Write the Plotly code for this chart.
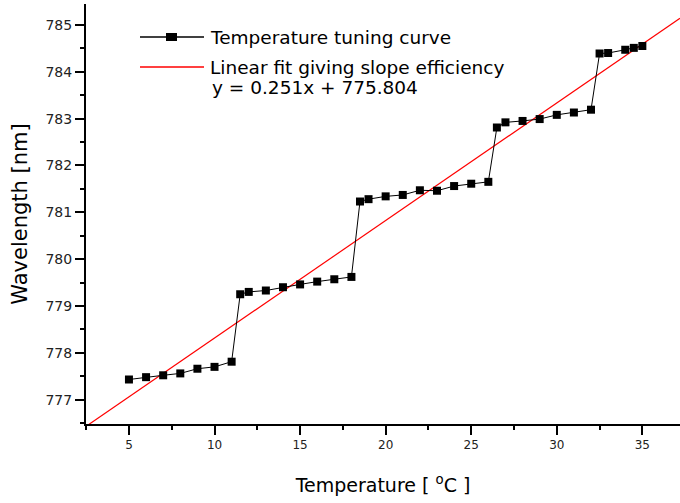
import plotly.graph_objects as go

# Data
temperature = [5, 6, 7, 8, 9, 10, 11,
               11.5, 12, 13, 14, 15, 16, 17, 18,
               18.5, 19, 20, 21, 22, 23, 24, 25, 26,
               26.5, 27, 28, 29, 30, 31, 32,
               32.5, 33, 34, 34.5, 35]
wavelength = [777.43, 777.48, 777.52, 777.56, 777.66, 777.70, 777.81,
              779.25, 779.30, 779.33, 779.40, 779.46, 779.52, 779.57, 779.62,
              781.23, 781.28, 781.34, 781.37, 781.47, 781.46, 781.56, 781.61, 781.65,
              782.81, 782.92, 782.95, 782.99, 783.08, 783.13, 783.19,
              784.39, 784.40, 784.47, 784.51, 784.55]

fit_slope = 0.251
fit_intercept = 775.804
fit_x = [2.49, 37.2]
fit_y = [fit_slope * x + fit_intercept for x in fit_x]

x_ticks = [5, 10, 15, 20, 25, 30, 35]
y_ticks = [777, 778, 779, 780, 781, 782, 783, 784, 785]

legend_names = ["Temperature tuning curve", "Linear fit giving slope efficiency",
                "y = 0.251x + 775.804"]

W, H = 680, 503
PL, PR, PT, PB = 86, 680, 4, 424          # plot area in window pixels
L, R, T, B = PL, W - PR, PT, H - PB


def px(sx):
    return (sx - PL) / (PR - PL)


def py(sy):
    return (PB - sy) / (PB - PT)


FONT = "DejaVu Sans"

fig = go.Figure()
fig.add_trace(go.Scatter(x=fit_x, y=fit_y, mode="lines",
                         line=dict(color="#ff0000", width=1.2),
                         name=legend_names[1], showlegend=False))
fig.add_trace(go.Scatter(x=temperature, y=wavelength, mode="lines+markers",
                         line=dict(color="black", width=1),
                         marker=dict(symbol="square", size=8, color="black"),
                         name=legend_names[0], showlegend=False))

shapes = [
    dict(type="line", xref="paper", yref="paper", x0=px(140), x1=px(204),
         y0=py(37), y1=py(37), line=dict(color="black", width=1.5)),
    dict(type="rect", xref="paper", yref="paper", x0=px(166), x1=px(177),
         y0=py(41), y1=py(33), fillcolor="black", line=dict(width=0)),
    dict(type="line", xref="paper", yref="paper", x0=px(140), x1=px(204),
         y0=py(67), y1=py(67), line=dict(color="#ff0000", width=1.5)),
]
annotations = [
    dict(text=legend_names[0], xref="paper", yref="paper", x=px(208), y=py(37),
         xanchor="left", yanchor="middle", showarrow=False,
         font=dict(family=FONT, size=18.5, color="black")),
    dict(text=legend_names[1], xref="paper", yref="paper", x=px(208), y=py(67),
         xanchor="left", yanchor="middle", showarrow=False,
         font=dict(family=FONT, size=18.5, color="black")),
    dict(text=legend_names[2], xref="paper", yref="paper", x=px(210), y=py(88),
         xanchor="left", yanchor="middle", showarrow=False,
         font=dict(family=FONT, size=18.5, color="black")),
]

y_top = 776.48 + (PB - PT) / 46.84

fig.update_layout(
    width=W, height=H,
    margin=dict(l=L, r=R, t=T, b=B, pad=0),
    paper_bgcolor="white", plot_bgcolor="white",
    showlegend=False,
    shapes=shapes, annotations=annotations,
    xaxis=dict(range=[2.49, 37.2], tickvals=x_ticks, ticks="outside", ticklen=9,
               tickwidth=1.5, tickcolor="black", showline=True, linecolor="black",
               linewidth=2, showgrid=False, zeroline=False,
               minor=dict(dtick=2.5, tick0=0, ticks="outside", ticklen=4,
                          tickwidth=1.5, tickcolor="black", showgrid=False),
               tickfont=dict(family=FONT, size=12, color="#222"),
               title=dict(text="Temperature [ <sup>o</sup>C ]",
                          font=dict(family=FONT, size=19, color="black"), standoff=27)),
    yaxis=dict(range=[776.48, y_top], tickvals=y_ticks, ticks="outside", ticklen=9,
               tickwidth=1.5, tickcolor="black", showline=True, linecolor="black",
               linewidth=2, showgrid=False, zeroline=False,
               minor=dict(dtick=0.5, tick0=0, ticks="outside", ticklen=4,
                          tickwidth=1.5, tickcolor="black", showgrid=False),
               tickfont=dict(family=FONT, size=14, color="#222"),
               title=dict(text="Wavelength [nm]",
                          font=dict(family=FONT, size=21, color="black"), standoff=12)),
)

fig.write_html("out.html",
               config={"displayModeBar": False},
               post_script="document.body.style.margin='0';document.body.style.overflow='hidden';")
